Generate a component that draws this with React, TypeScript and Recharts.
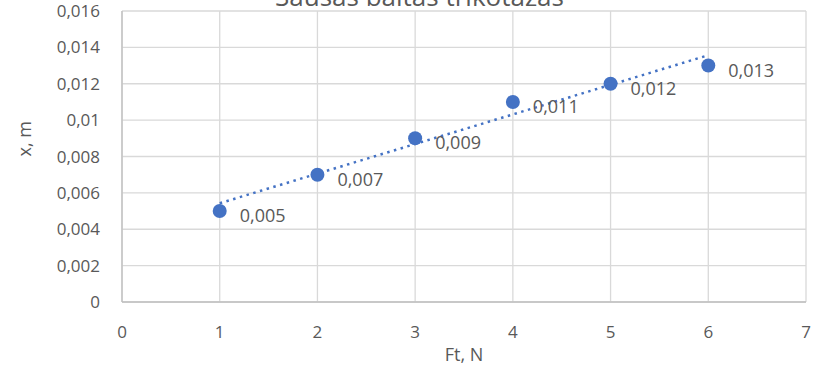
import { ScatterChart, Scatter, XAxis, YAxis, CartesianGrid, LabelList } from "recharts";

const forceN = [1, 2, 3, 4, 5, 6];
const stretchM = [0.005, 0.007, 0.009, 0.011, 0.012, 0.013];
// linear trendline endpoints
const trendX = [1, 6];
const trendY = [0.00543, 0.01357];
const xTicks = [0, 1, 2, 3, 4, 5, 6, 7];
const yTicks = [0, 0.002, 0.004, 0.006, 0.008, 0.01, 0.012, 0.014, 0.016];

const points = forceN.map((x, i) => ({ x, y: stretchM[i] }));
const trend = trendX.map((x, i) => ({ x, y: trendY[i] }));

const BLUE = "#4472C4";
const TEXT = "#595959";
const FONT = "'Open Sans', sans-serif";

const comma = (v: number) => String(v).replace(".", ",");

export default function App() {
  return (
    <div
      style={{
        position: "absolute",
        left: 0,
        top: 0,
        width: 819,
        height: 369,
        overflow: "hidden",
        background: "#fff",
        fontFamily: FONT,
      }}
    >
      <div
        style={{
          position: "absolute",
          top: -22,
          left: 0,
          width: 819,
          textAlign: "center",
          fontSize: 26,
          lineHeight: "36px",
          color: TEXT,
          paddingLeft: 10,
        }}
      >
        Sausas baltas trikotažas
      </div>
      <ScatterChart width={819} height={369} margin={{ top: 11, right: 13, bottom: 0, left: 0 }}>
        <CartesianGrid stroke="#d9d9d9" strokeWidth={1.3} />
        <XAxis
          type="number"
          dataKey="x"
          domain={[0, 7]}
          ticks={xTicks}
          height={67}
          tick={{ fontSize: 17, fill: TEXT, fontFamily: FONT }}
          tickLine={false}
          axisLine={{ stroke: "#bfbfbf", strokeWidth: 1.3 }}
          tickMargin={18}
          label={{ value: "Ft, N", position: "insideBottom", offset: 8, fontSize: 18, fill: TEXT, fontFamily: FONT }}
        />
        <YAxis
          type="number"
          dataKey="y"
          domain={[0, 0.016]}
          ticks={yTicks}
          width={122}
          tick={{ fontSize: 17, fill: TEXT, fontFamily: FONT }}
          tickFormatter={comma}
          tickLine={false}
          axisLine={{ stroke: "#bfbfbf", strokeWidth: 1.3 }}
          tickMargin={16}
          label={{ value: "x, m", angle: -90, position: "insideLeft", offset: 25, fontSize: 18, fill: TEXT, fontFamily: FONT }}
        />
        <Scatter
          data={trend}
          isAnimationActive={false}
          line={{ stroke: BLUE, strokeWidth: 2.5, strokeDasharray: "2.5 4.5" }}
          shape={() => <g />}
        />
        <Scatter data={points} fill={BLUE} isAnimationActive={false} shape={(p: any) => <circle cx={p.cx} cy={p.cy} r={7} fill={BLUE} />}>
          <LabelList
            dataKey="y"
            content={(p: any) => (
              <text
                x={p.x + p.width / 2 + 20}
                y={p.y + p.height / 2 + 11}
                fontSize={18}
                fill={TEXT}
                fontFamily={FONT}
              >
                {comma(p.value)}
              </text>
            )}
          />
        </Scatter>
      </ScatterChart>
    </div>
  );
}
